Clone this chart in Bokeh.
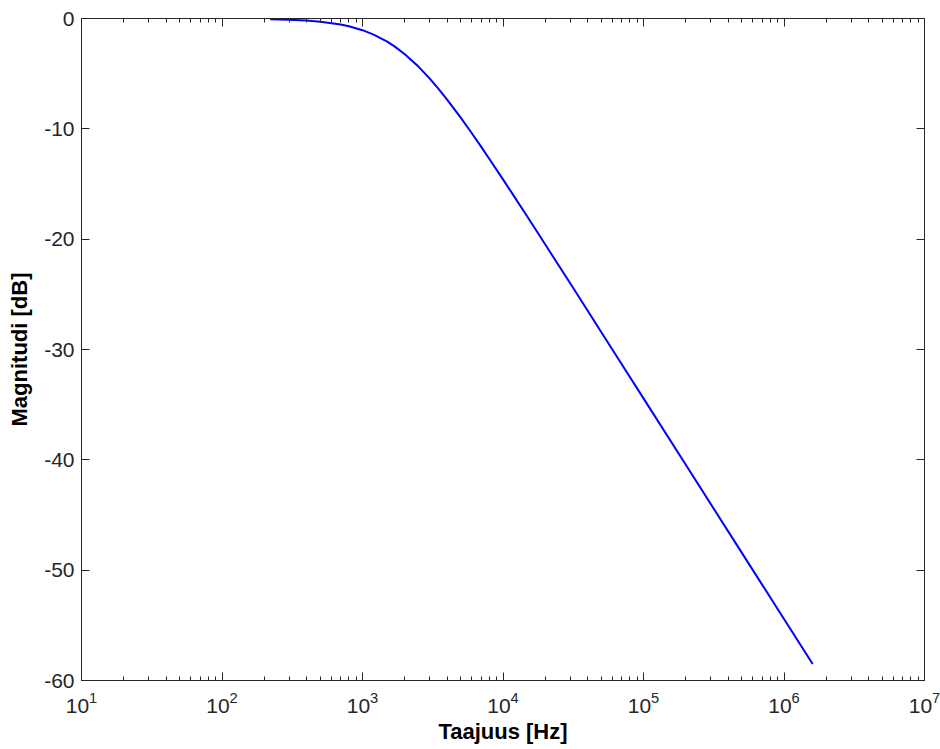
from bokeh.plotting import figure
from bokeh.models import Range1d, FixedTicker, LogAxis, LinearAxis, PrintfTickFormatter
from bokeh.embed import file_html
from bokeh.resources import INLINE

# Data (frequency in Hz, magnitude in dB)
freq_hz = [220, 300, 400, 500, 700, 800, 1000, 1200, 1500, 1700, 2000, 2500,
           3000, 3500, 4000, 5000, 6000, 7000, 8000, 10000, 12000, 15000,
           20000, 30000, 50000, 70000, 100000, 200000, 500000, 1000000, 1600000]
mag_db = [-0.06, -0.11, -0.19, -0.29, -0.55, -0.71, -1.06, -1.46, -2.10, -2.55,
          -3.24, -4.36, -5.43, -6.43, -7.35, -8.99, -10.40, -11.63, -12.73,
          -14.58, -16.12, -18.02, -20.49, -23.98, -28.41, -31.33, -34.43,
          -40.45, -48.41, -54.42, -58.51]

x_major = [1e1, 1e2, 1e3, 1e4, 1e5, 1e6, 1e7]
x_minor = [m * d for d in [1e1, 1e2, 1e3, 1e4, 1e5, 1e6] for m in range(2, 10)]
y_major = [-60, -50, -40, -30, -20, -10, 0]

FONT = "Liberation Sans"
AX = "#262626"

p = figure(width=940, height=749, x_axis_type="log",
           x_range=Range1d(1e1, 1e7), y_range=Range1d(-60, 0),
           output_backend="svg", toolbar_location=None,
           min_border_left=81, min_border_right=16, min_border_top=18,
           min_border_bottom=69)
p.grid.visible = False
p.outline_line_color = AX
p.background_fill_color = "white"
p.border_fill_color = "white"

p.line(freq_hz, mag_db, line_color="#0000FF", line_width=2)

xt = FixedTicker(ticks=x_major, minor_ticks=x_minor)
yt = FixedTicker(ticks=y_major)


def style(ax):
    ax.axis_line_color = AX
    ax.major_tick_line_color = AX
    ax.minor_tick_line_color = AX
    ax.major_tick_in = 8
    ax.major_tick_out = 0
    ax.minor_tick_in = 4
    ax.minor_tick_out = 0
    ax.major_label_text_font = FONT
    ax.major_label_text_font_size = "21px"
    ax.major_label_text_color = "#262626"
    ax.axis_label_text_font = FONT
    ax.axis_label_text_font_size = "22px"
    ax.axis_label_text_font_style = "bold"
    ax.axis_label_text_color = "black"


xa = p.xaxis[0]
xa.ticker = xt
style(xa)
xa.axis_label = "Taajuus [Hz]"
xa.major_label_standoff = 11
xa.axis_label_standoff = 3

ya = p.yaxis[0]
ya.ticker = yt
ya.formatter = PrintfTickFormatter(format="%d")
style(ya)
ya.minor_tick_line_color = None
ya.axis_label = "Magnitudi [dB]"
ya.major_label_standoff = 7
ya.axis_label_standoff = 9

top = LogAxis(ticker=xt)
style(top)
top.major_label_text_font_size = "1px"
top.major_label_text_color = None
top.major_label_standoff = 0
p.add_layout(top, "above")

right = LinearAxis(ticker=yt)
style(right)
right.minor_tick_line_color = None
right.major_label_text_font_size = "1px"
right.major_label_text_color = None
right.major_label_standoff = 0
p.add_layout(right, "right")

open("out.html", "w").write(file_html(p, INLINE))
